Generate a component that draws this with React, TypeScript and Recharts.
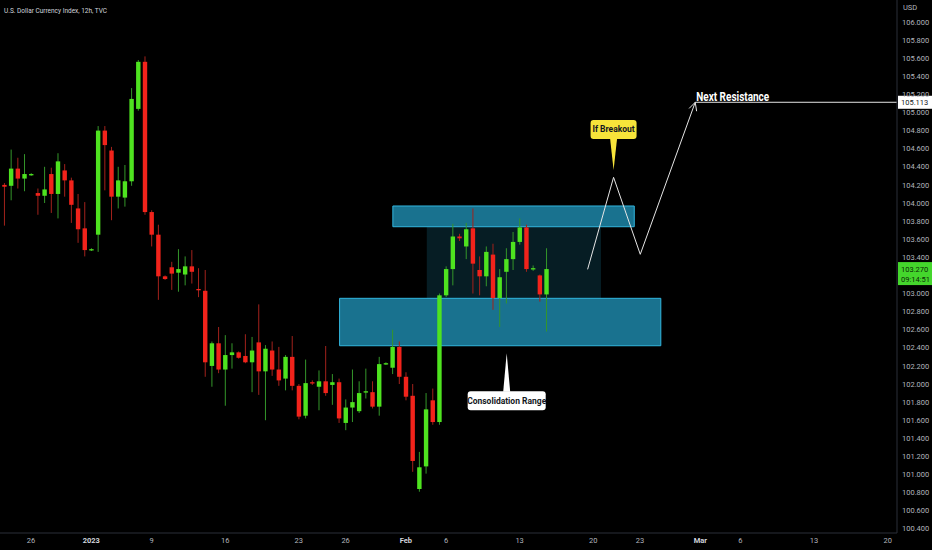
import React from "react";
import {
  ComposedChart,
  Bar,
  XAxis,
  YAxis,
  ReferenceArea,
  ReferenceLine,
  ReferenceDot,
} from "recharts";

// 12h candles (index 0 = first visible candle)
const opens = [
  104.2, 104.19, 104.38, 104.27, 104.31, 104.11, 104.08, 104.32, 104.1, 104.36,
  104.25, 103.94, 103.72, 103.48, 103.65, 104.8, 104.58, 104.07, 104.06, 104.24,
  105.04, 105.56, 103.9, 103.65, 103.19, 103.29, 103.23, 103.21, 103.3, 103.05,
  103.03, 102.2, 102.45, 102.16, 102.32, 102.35, 102.31, 102.24, 102.46, 102.14,
  102.37, 102.16, 102.06, 102.3, 101.98, 101.65, 102.02, 101.97, 102.03, 101.99,
  102.02, 101.57, 101.74, 101.7, 101.91, 101.91, 101.75, 102.22, 102.18, 102.41,
  102.08, 101.87, 100.84, 101.09, 101.82, 101.58, 102.98, 103.27, 103.63, 103.52,
  103.72, 103.26, 103.19, 103.43, 102.95, 103.24, 103.38, 103.57, 103.73, 103.27,
  103.2, 102.99,
];
const highs = [
  104.22, 104.59, 104.5, 104.54, 104.33, 104.16, 104.4, 104.39, 104.55, 104.43,
  104.28, 104.1, 104.01, 103.5, 104.85, 104.85, 104.62, 104.4, 104.42, 105.27,
  105.58, 105.62, 103.92, 103.76, 103.2, 103.35, 103.49, 103.41, 103.48, 103.28,
  103.26, 102.47, 102.63, 102.54, 102.45, 102.36, 102.55, 102.52, 102.88, 102.43,
  102.47, 102.41, 102.32, 102.53, 102.0, 102.27, 102.04, 102.15, 102.42, 102.11,
  102.06, 101.83, 102.16, 102.03, 102.17, 102.03, 102.3, 102.24, 102.6, 102.47,
  102.13, 102.0, 101.25, 101.9, 101.95, 103.0, 103.3, 103.77, 103.66, 103.78,
  103.94, 103.41, 103.52, 103.55, 103.27, 103.5, 103.68, 103.83, 103.76, 103.31,
  103.21, 103.5,
];
const lows = [
  103.75, 104.03, 104.16, 104.13, 104.3, 103.87, 104.0, 103.89, 103.83, 104.07,
  103.78, 103.56, 103.41, 103.47, 103.46, 104.14, 103.81, 103.94, 103.96, 104.19,
  105.02, 103.87, 103.52, 102.93, 103.15, 103.04, 103.02, 103.09, 103.11, 102.96,
  102.08, 101.97, 102.12, 101.76, 102.17, 102.28, 102.23, 101.91, 101.88, 101.6,
  102.09, 101.98, 101.93, 101.93, 101.61, 101.62, 101.99, 101.71, 101.87, 101.77,
  101.57, 101.49, 101.58, 101.68, 101.84, 101.73, 101.65, 102.21, 102.11, 102.0,
  101.82, 101.03, 100.81, 101.01, 101.55, 101.55, 102.96, 103.09, 103.58, 103.38,
  103.0, 102.98, 103.08, 102.82, 102.63, 102.89, 103.26, 103.54, 103.24, 103.25,
  102.91, 102.58,
];
const closes = [
  104.18, 104.38, 104.27, 104.32, 104.32, 104.08, 104.15, 104.1, 104.46, 104.25,
  103.98, 103.71, 103.48, 103.49, 104.8, 104.64, 104.07, 104.25, 104.24, 105.15,
  105.56, 103.9, 103.65, 103.19, 103.16, 103.22, 103.27, 103.3, 103.24, 103.04,
  102.24, 102.45, 102.16, 102.32, 102.35, 102.29, 102.24, 102.37, 102.14, 102.39,
  102.16, 102.04, 102.3, 101.98, 101.64, 102.01, 102.01, 102.03, 101.9, 102.02,
  101.62, 101.74, 101.8, 101.9, 101.92, 101.75, 102.22, 102.23, 102.41, 102.08,
  101.86, 101.15, 101.08, 101.72, 101.58, 102.98, 103.27, 103.63, 103.61, 103.71,
  103.33, 103.19, 103.46, 102.95, 103.18, 103.38, 103.57, 103.73, 103.27, 103.28,
  102.99, 103.27,
];

const dateTicks = [4, 13, 22, 33, 44, 51, 60, 66, 77, 88, 95, 104, 110, 121, 132];
const dateLabels = ["26", "2023", "9", "16", "23", "26", "Feb", "6", "13", "20", "23", "Mar", "6", "13", "20"];
// 103.200 sits under the live price tag, so it is not listed
const priceTicks = [
  100.4, 100.6, 100.8, 101.0, 101.2, 101.4, 101.6, 101.8, 102.0, 102.2, 102.4,
  102.6, 102.8, 103.0, 103.4, 103.6, 103.8, 104.0, 104.2, 104.4, 104.6,
  104.8, 105.0, 105.2, 105.4, 105.6, 105.8, 106.0,
];

// drawn levels (candle index, price)
const lastPrice = 103.27;
const resistance = 105.113;
const pathIdx = [87.16, 91.04, 95.03, 103.24];
const pathPrice = [103.267, 104.284, 103.433, 105.113];

const UP = "#4ee31f";
const DOWN = "#f2231b";
const UP_WICK = "#34962a";
const DOWN_WICK = "#a3221c";
const AXIS_TEXT = "#b2b5be";
const FONT = "Roboto, 'Noto Sans', sans-serif";

const candles = opens.map((o, i) => ({
  i,
  open: o,
  high: highs[i],
  low: lows[i],
  close: closes[i],
  range: [lows[i], highs[i]],
}));

const Candle = (props: any) => {
  const { x, y, width, height, payload } = props;
  if (!payload) return null;
  const { open, close, high, low } = payload;
  const top = Math.min(y, y + height);
  const h = Math.abs(height);
  const cx = x + width / 2;
  const span = high - low || 1e-6;
  const py = (v: number) => top + ((high - v) / span) * h;
  const up = close >= open;
  const bTop = py(Math.max(open, close));
  const bBot = py(Math.min(open, close));
  return (
    <g>
      <line x1={cx} x2={cx} y1={top} y2={top + h} stroke={up ? UP_WICK : DOWN_WICK} strokeWidth={1} />
      <rect x={cx - 2.2} y={bTop} width={4.4} height={Math.max(bBot - bTop, 1.3)} fill={up ? UP : DOWN} />
    </g>
  );
};

const DateTick = (props: any) => {
  const { x, y, payload } = props;
  const k = dateTicks.indexOf(payload.value);
  const label = k >= 0 ? dateLabels[k] : "";
  const strong = label === "2023" || label === "Feb" || label === "Mar";
  return (
    <text x={x} y={y} dy="0.71em" textAnchor="middle" fontSize={7.5} fontFamily={FONT}
      fill={strong ? "#d1d4dc" : AXIS_TEXT} fontWeight={strong ? 700 : 400}>
      {label}
    </text>
  );
};

const Callout = (props: any) => {
  const { cx, cy, text, fill, below, w } = props;
  const boxH = 19;
  const gap = below ? 38 : 31;
  const boxY = below ? cy + gap : cy - gap - boxH;
  const baseY = below ? cy + gap + 0.5 : cy - gap - 0.5;
  return (
    <g>
      <path d={`M${cx - 3.5},${baseY} L${cx},${cy} L${cx + 3.5},${baseY} Z`} fill={fill} />
      <rect x={cx - w / 2} y={boxY} width={w} height={boxH} rx={3} fill={fill} />
      <text x={cx} y={boxY + boxH / 2} dy="0.35em" textAnchor="middle" fontSize={8.5}
        fontWeight={700} fontFamily={FONT} fill="#131722">
        {text}
      </text>
    </g>
  );
};

const PriceBox = (props: any) => {
  const { viewBox, kind } = props;
  const x = viewBox.x + viewBox.width + 1;
  const y = viewBox.y;
  if (kind === "last") {
    return (
      <g>
        <rect x={x} y={y - 7} width={34} height={23} fill="#44d62c" />
        <text x={x + 3} y={y} dy="0.35em" fontSize={7.5} fontFamily={FONT} fill="#0b2a06">103.270</text>
        <text x={x + 3} y={y + 10} dy="0.35em" fontSize={7.5} fontFamily={FONT} fill="#0b2a06">09:14:51</text>
      </g>
    );
  }
  return (
    <g>
      <rect x={x} y={y - 6.5} width={34} height={13} fill="#ffffff" />
      <text x={x + 3} y={y} dy="0.35em" fontSize={7.5} fontFamily={FONT} fill="#131722">105.113</text>
    </g>
  );
};

export default function App() {
  const seg = (a: number, b: number) => [
    { x: pathIdx[a], y: pathPrice[a] },
    { x: pathIdx[b], y: pathPrice[b] },
  ];
  return (
    <div style={{ position: "fixed", left: 0, top: 0, width: 932, height: 550, background: "#000", overflow: "hidden" }}>
      <ComposedChart width={932} height={550} data={candles} margin={{ top: 0, right: 0, bottom: 0, left: 0 }}>
        <XAxis
          dataKey="i"
          type="number"
          domain={[-0.642, 133.39]}
          allowDataOverflow
          ticks={dateTicks}
          interval={0}
          tick={<DateTick />}
          tickLine={false}
          tickSize={0}
          tickMargin={5}
          height={17}
          axisLine={{ stroke: "#2a2e39" }}
        />
        <YAxis
          orientation="right"
          type="number"
          domain={[100.354, 106.243]}
          allowDataOverflow
          ticks={priceTicks}
          interval={0}
          tickFormatter={(v: number) => v.toFixed(3)}
          tick={{ fill: AXIS_TEXT, fontSize: 7.5, fontFamily: FONT }}
          tickLine={false}
          tickSize={0}
          tickMargin={5}
          width={35}
          axisLine={{ stroke: "#2a2e39" }}
        />
        <ReferenceArea x1={63.13} x2={89.16} y1={102.947} y2={103.738} fill="#145f78" fillOpacity={0.3} strokeOpacity={0} ifOverflow="visible" />
        <Bar dataKey="range" shape={<Candle />} barSize={5} isAnimationActive={false} />
        <ReferenceArea x1={50.1} x2={98.1} y1={102.423} y2={102.947} fill="#24a3cc" fillOpacity={0.7} stroke="#32b6de" strokeWidth={1} ifOverflow="visible" />
        <ReferenceArea x1={58.06} x2={94.13} y1={103.738} y2={103.967} fill="#24a3cc" fillOpacity={0.7} stroke="#32b6de" strokeWidth={1} ifOverflow="visible" />
        <ReferenceLine segment={seg(0, 1)} stroke="#e6e6e6" strokeWidth={1} ifOverflow="visible" />
        <ReferenceLine segment={seg(1, 2)} stroke="#e6e6e6" strokeWidth={1} ifOverflow="visible" />
        <ReferenceLine segment={seg(2, 3)} stroke="#e6e6e6" strokeWidth={1} ifOverflow="visible" />
        <ReferenceLine segment={[{ x: pathIdx[3], y: pathPrice[3] }, { x: 102.33, y: 105.045 }]} stroke="#e6e6e6" strokeWidth={1} ifOverflow="visible" />
        <ReferenceLine segment={[{ x: pathIdx[3], y: pathPrice[3] }, { x: 103.45, y: 105.014 }]} stroke="#e6e6e6" strokeWidth={1} ifOverflow="visible" />
        <ReferenceLine segment={[{ x: pathIdx[3], y: resistance }, { x: 133.39, y: resistance }]} stroke="#e6e6e6" strokeWidth={1} ifOverflow="visible" />
        <ReferenceLine y={resistance} strokeOpacity={0} label={<PriceBox kind="res" />} />
        <ReferenceLine y={lastPrice} strokeOpacity={0} label={<PriceBox kind="last" />} />
        <ReferenceDot
          x={pathIdx[3]}
          y={resistance}
          ifOverflow="visible"
          shape={(p: any) => (
            <text x={p.cx + 1} y={p.cy - 1.5} fontSize={12} fontWeight={700} fontFamily={FONT} fill="#ffffff"
              textLength={73} lengthAdjust="spacingAndGlyphs">
              Next Resistance
            </text>
          )}
        />
        <ReferenceDot
          x={91.04}
          y={104.365}
          ifOverflow="visible"
          shape={(p: any) => <Callout cx={p.cx} cy={p.cy} text="If Breakout" fill="#f7e43a" w={46} />}
        />
        <ReferenceDot
          x={75.07}
          y={102.339}
          ifOverflow="visible"
          shape={(p: any) => <Callout cx={p.cx} cy={p.cy} text="Consolidation Range" fill="#ffffff" w={78} below />}
        />
      </ComposedChart>
      <svg width={932} height={20} style={{ position: "absolute", left: 0, top: 0, pointerEvents: "none" }}>
        <text x={4} y={13} fontSize={8} fontFamily={FONT} fill="#d1d4dc" textLength={103} lengthAdjust="spacingAndGlyphs">
          U.S. Dollar Currency Index, 12h, TVC
        </text>
        <text x={903} y={10} fontSize={7.5} fontFamily={FONT} fill={AXIS_TEXT}>USD</text>
      </svg>
    </div>
  );
}
